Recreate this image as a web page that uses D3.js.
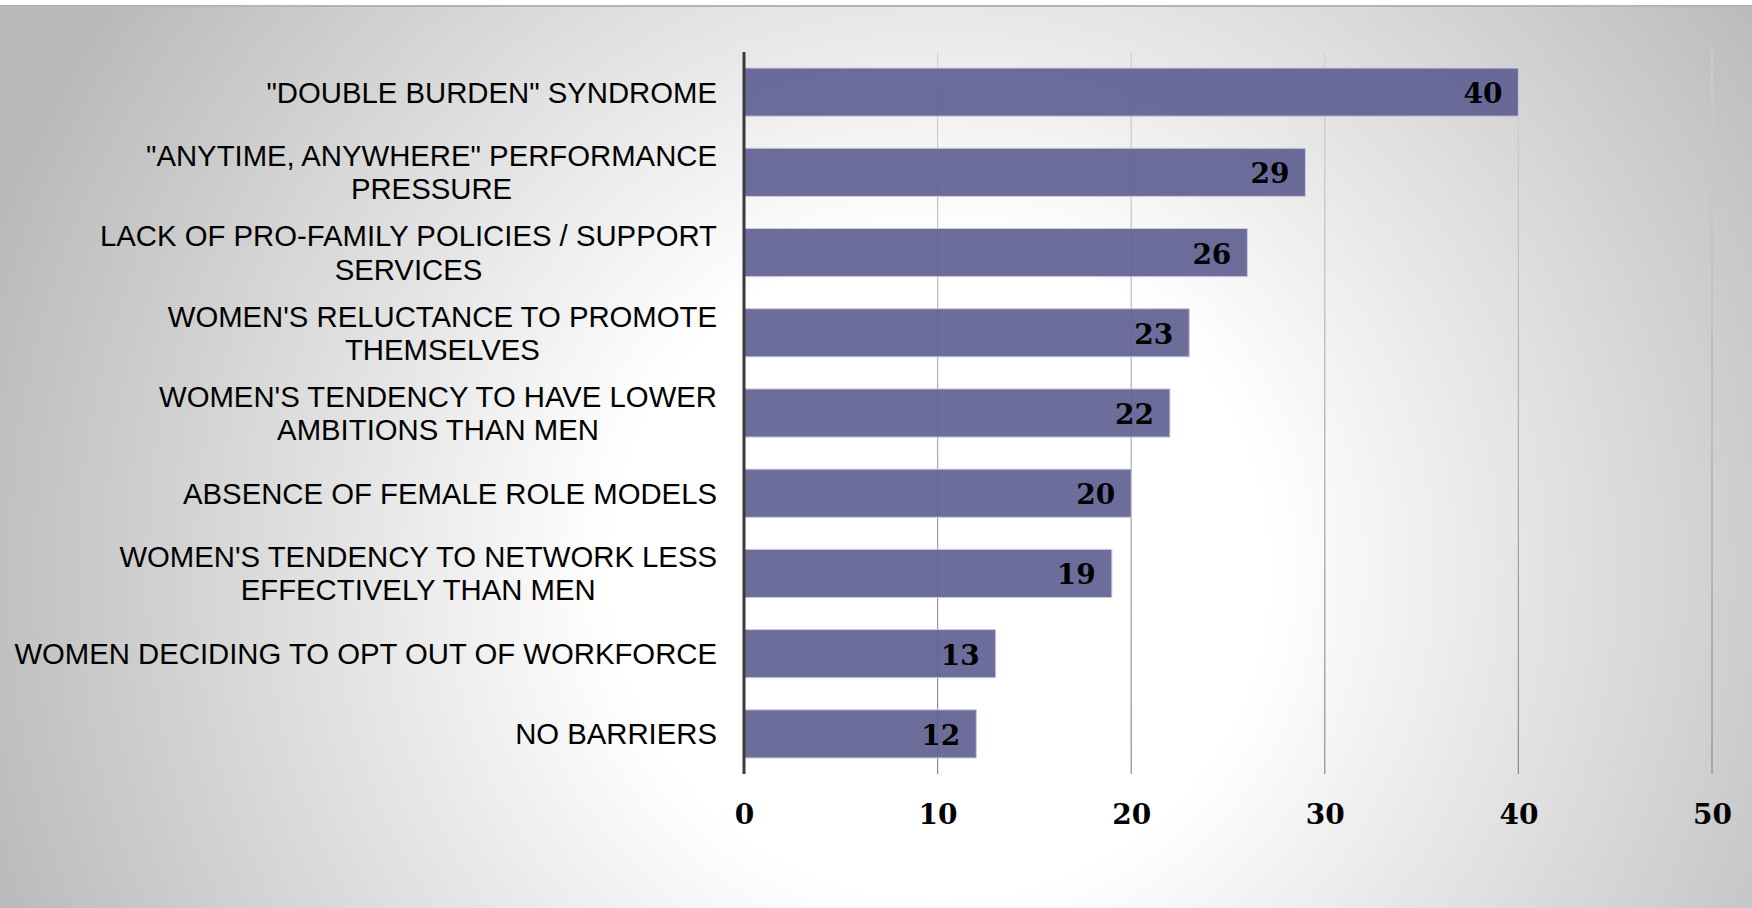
<!DOCTYPE html>
<html>
<head>
<meta charset="utf-8">
<script src="https://cdn.jsdelivr.net/npm/d3@7"></script>
<style>
  html, body { margin: 0; padding: 0; background: #fff; }
  svg { display: block; }
  .cat { font-family: "Liberation Sans", Arial, sans-serif; font-size: 29.3px; fill: #000; }
  .num { font-family: "DejaVu Serif", "Liberation Serif", serif; font-weight: bold; font-size: 28px; fill: #000; font-variant-numeric: oldstyle-nums; }
</style>
</head>
<body>
<svg id="chart" width="1752" height="908"></svg>
<script>
// Barriers to women's advancement (percent of respondents)
const categories = [
  "\"DOUBLE BURDEN\" SYNDROME",
  "\"ANYTIME, ANYWHERE\" PERFORMANCE\nPRESSURE",
  "LACK OF PRO-FAMILY POLICIES / SUPPORT\nSERVICES",
  "WOMEN'S RELUCTANCE TO PROMOTE\nTHEMSELVES",
  "WOMEN'S TENDENCY TO HAVE LOWER\nAMBITIONS THAN MEN",
  "ABSENCE OF FEMALE ROLE MODELS",
  "WOMEN'S TENDENCY TO NETWORK LESS\nEFFECTIVELY THAN MEN",
  "WOMEN DECIDING TO OPT OUT OF WORKFORCE",
  "NO BARRIERS"
];
const values = [40, 29, 26, 23, 22, 20, 19, 13, 12];
const xTicks = [0, 10, 20, 30, 40, 50];

const W = 1752, H = 908;
const plot = { left: 744, right: 1712, top: 52, bottom: 774 };
const labelRight = 717;

const svg = d3.select("#chart");
const defs = svg.append("defs");

// Soft radial backdrop: white centre fading to grey at the edges
const bg = defs.append("radialGradient")
  .attr("id", "bg").attr("gradientUnits", "userSpaceOnUse")
  .attr("cx", 940).attr("cy", 570).attr("r", 1000);
bg.append("stop").attr("offset", 0).attr("stop-color", "#ffffff");
bg.append("stop").attr("offset", 0.33).attr("stop-color", "#ffffff");
bg.append("stop").attr("offset", 1).attr("stop-color", "#bababa");

const gridGrad = defs.append("linearGradient")
  .attr("id", "gridGrad").attr("gradientUnits", "userSpaceOnUse")
  .attr("x1", 0).attr("x2", 0).attr("y1", plot.top).attr("y2", plot.bottom);
gridGrad.append("stop").attr("offset", 0).attr("stop-color", "#d2d2d2");
gridGrad.append("stop").attr("offset", 1).attr("stop-color", "#8a8a8a");

svg.append("rect").attr("width", W).attr("height", H).attr("fill", "#fff");
svg.append("rect").attr("x", 0).attr("y", 6).attr("width", W).attr("height", H - 6).attr("fill", "url(#bg)");
svg.append("line").attr("x1", 0).attr("x2", W).attr("y1", 6).attr("y2", 6)
  .attr("stroke", "#b4b4b4").attr("stroke-width", 2);

const x = d3.scaleLinear().domain([0, 50]).range([plot.left, plot.right]);
const y = d3.scaleBand().domain(categories).range([plot.top, plot.bottom])
  .paddingInner(0.4).paddingOuter(0.2);

// Vertical gridlines
svg.append("g").selectAll("line").data(xTicks.filter(d => d > 0)).join("line")
  .attr("x1", d => x(d)).attr("x2", d => x(d))
  .attr("y1", plot.top).attr("y2", plot.bottom)
  .attr("stroke", "url(#gridGrad)").attr("stroke-width", 1.2);

// Bars
svg.append("g").selectAll("rect").data(values).join("rect")
  .attr("x", x(0))
  .attr("y", (d, i) => y(categories[i]))
  .attr("width", d => x(d) - x(0))
  .attr("height", y.bandwidth())
  .attr("fill", "#5d5d91").attr("fill-opacity", 0.9)
  .attr("stroke", "#c9c9e2").attr("stroke-width", 1);

// Value labels inside the bar ends
svg.append("g").selectAll("text").data(values).join("text")
  .attr("class", "num")
  .attr("x", d => x(d) - 16)
  .attr("y", (d, i) => y(categories[i]) + y.bandwidth() / 2 + 11)
  .attr("text-anchor", "end")
  .text(d => d);

// Category axis line
svg.append("line")
  .attr("x1", x(0)).attr("x2", x(0)).attr("y1", plot.top).attr("y2", plot.bottom)
  .attr("stroke", "#3a3a3a").attr("stroke-width", 3);

// Value axis tick labels
const xAxis = d3.axisBottom(x).tickValues(xTicks).tickSize(0).tickPadding(0);
const gx = svg.append("g").attr("transform", `translate(0,${plot.bottom})`).call(xAxis);
gx.select(".domain").remove();
gx.selectAll("text").attr("class", "num").attr("dy", null).attr("y", 50)
  .attr("fill", "#000");
gx.attr("font-size", null).attr("font-family", null);

// Category labels: block right-aligned, lines centred within the block
const lineH = 33.3;
const cats = svg.append("g");
categories.forEach(c => {
  const lines = c.split("\n");
  const g = cats.append("g");
  const texts = lines.map(ln => g.append("text").attr("class", "cat").text(ln));
  const widths = texts.map(t => t.node().getComputedTextLength());
  const maxW = d3.max(widths);
  const cx = labelRight - maxW / 2;
  const mid = y(c) + y.bandwidth() / 2;
  const first = mid - (lines.length - 1) * lineH / 2 + 10.4;
  texts.forEach((t, j) => t.attr("x", cx).attr("y", first + j * lineH).attr("text-anchor", "middle"));
});
</script>
</body>
</html>
